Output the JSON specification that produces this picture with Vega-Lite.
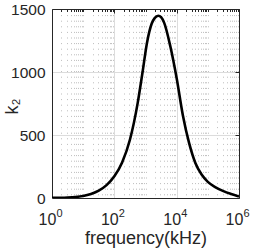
{
  "$schema": "https://vega.github.io/schema/vega-lite/v6.json",
  "width": 187,
  "height": 189,
  "autosize": "none",
  "padding": {"left": 52, "top": 9, "right": 15, "bottom": 51},
  "config": {
    "view": {"stroke": null},
    "font": "Liberation Sans",
    "axis": {
      "domainColor": "#262626",
      "domainWidth": 1,
      "tickColor": "#262626",
      "labelColor": "#262626",
      "titleColor": "#262626",
      "labelFont": "Liberation Sans",
      "titleFont": "Liberation Sans",
      "titleFontWeight": "normal"
    }
  },
  "data": {
    "values": [
      {"f": 1, "k2": 1},
      {"f": 1.778, "k2": 2},
      {"f": 3.162, "k2": 4},
      {"f": 5.623, "k2": 8},
      {"f": 10, "k2": 16},
      {"f": 17.78, "k2": 32},
      {"f": 31.62, "k2": 58},
      {"f": 56.23, "k2": 102},
      {"f": 100, "k2": 172},
      {"f": 177.8, "k2": 282},
      {"f": 316.2, "k2": 462},
      {"f": 562.3, "k2": 755},
      {"f": 794.3, "k2": 990},
      {"f": 1122, "k2": 1235},
      {"f": 1585, "k2": 1385},
      {"f": 1995, "k2": 1430},
      {"f": 2570, "k2": 1447},
      {"f": 3162, "k2": 1435},
      {"f": 3981, "k2": 1390},
      {"f": 6310, "k2": 1200},
      {"f": 10000, "k2": 950},
      {"f": 15850, "k2": 655},
      {"f": 25120, "k2": 435},
      {"f": 39810, "k2": 278},
      {"f": 63100, "k2": 186},
      {"f": 100000, "k2": 128},
      {"f": 177800, "k2": 85},
      {"f": 316200, "k2": 55},
      {"f": 562300, "k2": 32},
      {"f": 1000000, "k2": 12}
    ]
  },
  "resolve": {"axis": {"x": "independent", "y": "independent"}},
  "layer": [
    {
      "mark": {"type": "line", "color": "#000000", "strokeWidth": 2.6, "interpolate": "monotone", "clip": true},
      "encoding": {
        "x": {
          "field": "f", "type": "quantitative",
          "scale": {"type": "log", "domain": [1, 1000000], "nice": false},
          "axis": {
            "orient": "bottom",
            "title": "frequency(kHz)",
            "titleFontSize": 18,
            "titlePadding": 2,
            "values": [1,2,3,4,5,6,7,8,9,10,20,30,40,50,60,70,80,90,100,200,300,400,500,600,700,800,900,1000,2000,3000,4000,5000,6000,7000,8000,9000,10000,20000,30000,40000,50000,60000,70000,80000,90000,100000,200000,300000,400000,500000,600000,700000,800000,900000,1000000],
            "labelExpr": "datum.value == 1 || datum.value == 100 || datum.value == 10000 || datum.value == 1000000 ? '10' : ''",
            "labelFontSize": 16,
            "labelOverlap": false,
            "labelFlush": false,
            "labelBound": false,
            "labelPadding": 13,
            "labelOffset": -5,
            "ticks": false,
            "grid": true,
            "gridColor": {"condition": {"test": "datum.value == 1 || datum.value == 100 || datum.value == 10000 || datum.value == 1000000", "value": "#dcdcdc"}, "value": "#bdbdbd"},
            "gridDash": {"condition": {"test": "datum.value == 1 || datum.value == 100 || datum.value == 10000 || datum.value == 1000000", "value": []}, "value": [1, 4.6]},
            "gridWidth": 1
          }
        },
        "y": {
          "field": "k2", "type": "quantitative",
          "scale": {"domain": [0, 1500], "nice": false, "zero": true},
          "axis": {
            "orient": "left",
            "title": "k₂",
            "titleFontSize": 18,
            "titleAngle": 270,
            "titleBaseline": "alphabetic",
            "titleAlign": "center",
            "titleX": -35,
            "titleY": 97,
            "format": "d",
            "values": [0, 500, 1000, 1500],
            "labelFontSize": 15.5,
            "labelPadding": 7,
            "ticks": false,
            "grid": true,
            "gridColor": "#dcdcdc"
          }
        }
      }
    },
    {
      "mark": {"type": "line", "color": "#000000", "strokeWidth": 2.6, "strokeOpacity": 0, "interpolate": "monotone", "clip": true},
      "encoding": {
        "x": {
          "field": "f", "type": "quantitative",
          "axis": {
            "orient": "top",
            "title": null,
            "labels": false,
            "grid": false,
            "values": [1,2,3,4,5,6,7,8,9,10,20,30,40,50,60,70,80,90,100,200,300,400,500,600,700,800,900,1000,2000,3000,4000,5000,6000,7000,8000,9000,10000,20000,30000,40000,50000,60000,70000,80000,90000,100000,200000,300000,400000,500000,600000,700000,800000,900000,1000000],
            "tickSize": {"condition": {"test": "datum.value == 1 || datum.value == 100 || datum.value == 10000 || datum.value == 1000000", "value": -4}, "value": -2.5}
          }
        },
        "y": {
          "field": "k2", "type": "quantitative",
          "axis": {
            "orient": "right",
            "title": null,
            "labels": false,
            "grid": false,
            "values": [0, 500, 1000, 1500],
            "tickSize": -4
          }
        }
      }
    },
    {
      "mark": {"type": "line", "color": "#000000", "strokeWidth": 2.6, "strokeOpacity": 0, "interpolate": "monotone", "clip": true},
      "encoding": {
        "x": {
          "field": "f", "type": "quantitative",
          "axis": {
            "orient": "bottom",
            "title": null,
            "domain": false,
            "ticks": false,
            "grid": false,
            "values": [1, 100, 10000, 1000000],
            "labelExpr": "datum.value == 1 ? '0' : datum.value == 100 ? '2' : datum.value == 10000 ? '4' : '6'",
            "labelFontSize": 11,
            "labelAlign": "left",
            "labelOverlap": false,
            "labelFlush": false,
            "labelBound": false,
            "labelPadding": 9,
            "labelOffset": 4
          }
        },
        "y": {
          "field": "k2", "type": "quantitative",
          "axis": null
        }
      }
    }
  ]
}
